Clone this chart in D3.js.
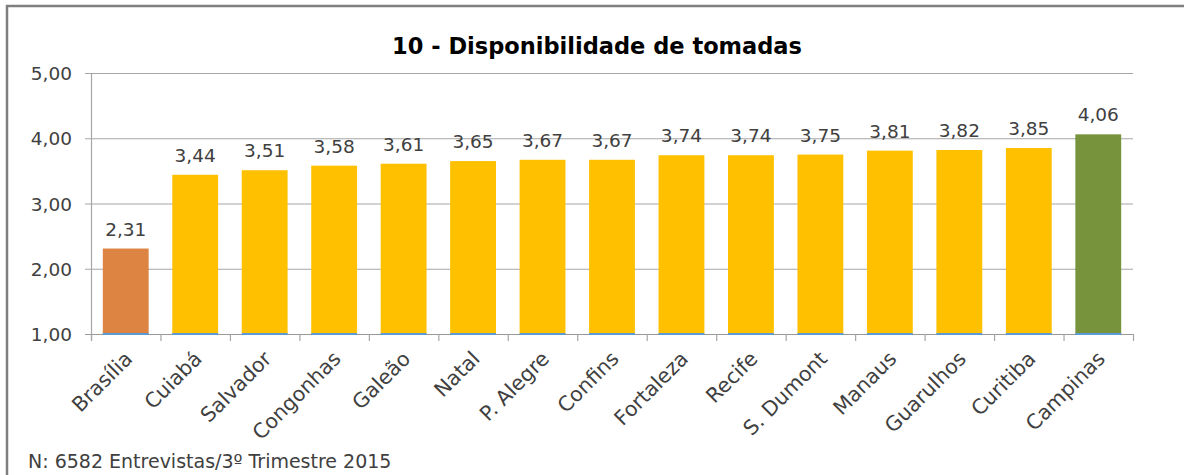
<!DOCTYPE html>
<html>
<head>
<meta charset="utf-8">
<script src="https://cdn.jsdelivr.net/npm/d3@7"></script>
<style>
  body { margin: 0; background: #fff; }
  svg { display: block; font-family: "DejaVu Sans", sans-serif; }
</style>
</head>
<body>
<svg id="chart" width="1184" height="475"></svg>
<script>
// dados
var categorias = ["Brasília", "Cuiabá", "Salvador", "Congonhas", "Galeão", "Natal", "P. Alegre",
    "Confins", "Fortaleza", "Recife", "S. Dumont", "Manaus", "Guarulhos", "Curitiba", "Campinas"];
var notas = [2.31, 3.44, 3.51, 3.58, 3.61, 3.65, 3.67, 3.67, 3.74, 3.74, 3.75, 3.81, 3.82, 3.85, 4.06];
var yTicks = [1, 2, 3, 4, 5];

var svg = d3.select("#chart");
var m = { left: 91, right: 1133, top: 73, bottom: 334 };

// moldura
svg.append("rect")
    .attr("x", 7).attr("y", 6)
    .attr("width", 1184).attr("height", 480)
    .attr("fill", "none").attr("stroke", "#7f7f7f").attr("stroke-width", 2.5);

var x = d3.scaleBand().domain(categorias).range([m.left, m.right]).paddingInner(0.34).paddingOuter(0.17);
var y = d3.scaleLinear().domain([1, 5]).range([m.bottom, m.top]);

// grade
svg.append("g").selectAll("line").data(yTicks).enter().append("line")
    .attr("x1", m.left - 6).attr("x2", m.right)
    .attr("y1", function(d) { return y(d) + 0.5; })
    .attr("y2", function(d) { return y(d) + 0.5; })
    .attr("stroke", function(d) { return d == 1 ? "#999" : "#a6a6a6"; })
    .attr("stroke-width", 1.2);

svg.append("line")
    .attr("x1", m.left + 0.5).attr("x2", m.left + 0.5)
    .attr("y1", m.top).attr("y2", m.bottom + 7)
    .attr("stroke", "#a6a6a6").attr("stroke-width", 1.2);

var fmt = function(d) { return d3.format(".2f")(d).replace(".", ","); };

// eixo y
svg.append("g").selectAll("text").data(yTicks).enter().append("text")
    .attr("x", m.left - 19).attr("y", function(d) { return y(d) + 7; })
    .attr("text-anchor", "end").attr("font-size", 18.5).attr("fill", "#404040")
    .text(fmt);

// ticks x
var step = x.step();
svg.append("g").selectAll("line").data(d3.range(categorias.length + 1)).enter().append("line")
    .attr("x1", function(i) { return m.left + i * step + 0.5; })
    .attr("x2", function(i) { return m.left + i * step + 0.5; })
    .attr("y1", m.bottom).attr("y2", m.bottom + 7)
    .attr("stroke", "#a6a6a6").attr("stroke-width", 1.2);

function cor(i) {
    if (i == 0) return "#dd8443";
    if (i == categorias.length - 1) return "#77933c";
    return "#ffc000";
}

// barras
svg.append("g").selectAll("rect").data(notas).enter().append("rect")
    .attr("x", function(d, i) { return x(categorias[i]); })
    .attr("y", function(d) { return y(d); })
    .attr("width", x.bandwidth())
    .attr("height", function(d) { return y(1) - y(d); })
    .attr("fill", function(d, i) { return cor(i); });

// linha azul na base
svg.append("g").selectAll("rect").data(notas).enter().append("rect")
    .attr("x", function(d, i) { return x(categorias[i]); })
    .attr("y", y(1) - 1)
    .attr("width", x.bandwidth())
    .attr("height", 2)
    .attr("fill", "#5b9bd5");

// rótulos de valor
svg.append("g").selectAll("text").data(notas).enter().append("text")
    .attr("x", function(d, i) { return x(categorias[i]) + x.bandwidth() / 2; })
    .attr("y", function(d) { return y(d) - 13; })
    .attr("text-anchor", "middle").attr("font-size", 18.5).attr("fill", "#404040")
    .text(fmt);

// categorias
svg.append("g").selectAll("text").data(categorias).enter().append("text")
    .attr("transform", function(d) {
        return "translate(" + (x(d) + x.bandwidth() / 2 + 8) + "," + (m.bottom + 26) + ") rotate(-45)";
    })
    .attr("text-anchor", "end").attr("font-size", 20.5).attr("fill", "#404040")
    .text(function(d) { return d; });

// título
svg.append("text")
    .attr("x", 597).attr("y", 54)
    .attr("text-anchor", "middle").attr("font-size", 22.5).attr("font-weight", "bold").attr("fill", "#000")
    .text("10 - Disponibilidade de tomadas");

// rodapé
svg.append("text")
    .attr("x", 28).attr("y", 468)
    .attr("font-size", 19).attr("fill", "#404040")
    .text("N: 6582 Entrevistas/3º Trimestre 2015");
</script>
</body>
</html>
